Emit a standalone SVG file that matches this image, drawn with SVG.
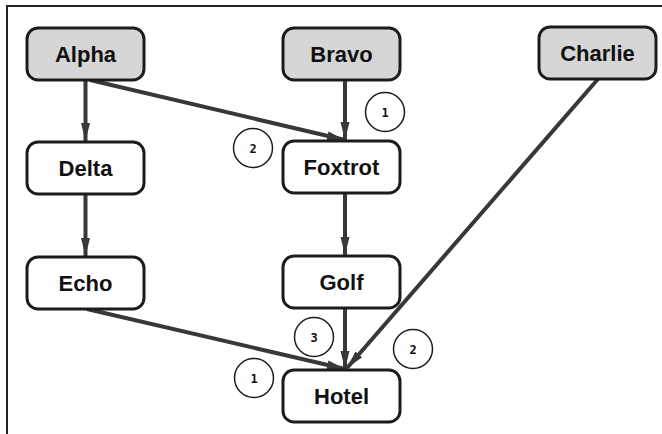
<svg xmlns="http://www.w3.org/2000/svg" width="662" height="434" viewBox="0 0 662 434">
  <style>
    .box { stroke: #1c1c1c; stroke-width: 3; }
    .top { fill: #d6d6d6; }
    .plain { fill: #ffffff; }
    .lbl { font-family: "Liberation Sans", Arial, sans-serif; font-weight: bold; font-size: 22px; fill: #111; text-anchor: middle; }
    .edge { fill: none; stroke: #383838; stroke-width: 4; }
    .tag circle { fill: #fff; stroke: #1c1c1c; stroke-width: 1.5; }
    .tag text { font-family: "DejaVu Sans Mono", "Liberation Mono", monospace; font-weight: bold; font-size: 12px; fill: #111; text-anchor: middle; }
  </style>
  <defs>
    <marker id="arr" markerUnits="userSpaceOnUse" markerWidth="20" markerHeight="12" refX="18" refY="6" orient="auto">
      <path d="M0,1.5 L18,6 L0,10.5 z" fill="#383838"/>
    </marker>
  </defs>
  <rect width="662" height="434" fill="#ffffff"/>
  <rect x="7" y="6" width="720" height="500" fill="none" stroke="#222" stroke-width="2"/>

  <g id="connectors">
    <path class="edge" d="M85.5,80 L85.5,141" marker-end="url(#arr)"/>
    <path class="edge" d="M85.5,194 L85.5,256" marker-end="url(#arr)"/>
    <path class="edge" d="M90,80 L345,140" marker-end="url(#arr)"/>
    <path class="edge" d="M345,80 L345,140" marker-end="url(#arr)"/>
    <path class="edge" d="M345,194 L345,255" marker-end="url(#arr)"/>
    <path class="edge" d="M87,309 L345,369" marker-end="url(#arr)"/>
    <path class="edge" d="M345,308 L345,369" marker-end="url(#arr)"/>
    <path class="edge" d="M598,79 L347,368" marker-end="url(#arr)"/>
  </g>

  <g id="Alpha"><rect class="box top" x="27" y="28" width="117" height="52" rx="11"/><text class="lbl" x="85.5" y="62">Alpha</text></g>
  <g id="Bravo"><rect class="box top" x="283" y="28" width="117" height="52" rx="11"/><text class="lbl" x="341.5" y="62">Bravo</text></g>
  <g id="Charlie"><rect class="box top" x="539" y="27" width="117" height="52" rx="11"/><text class="lbl" x="597.5" y="61">Charlie</text></g>
  <g id="Delta"><rect class="box plain" x="27" y="142" width="117" height="52" rx="11"/><text class="lbl" x="85.5" y="176">Delta</text></g>
  <g id="Foxtrot"><rect class="box plain" x="283" y="141" width="117" height="52" rx="11"/><text class="lbl" x="341.5" y="175">Foxtrot</text></g>
  <g id="Echo"><rect class="box plain" x="27" y="257" width="117" height="52" rx="11"/><text class="lbl" x="85.5" y="291">Echo</text></g>
  <g id="Golf"><rect class="box plain" x="283" y="256" width="117" height="52" rx="11"/><text class="lbl" x="341.5" y="290">Golf</text></g>
  <g id="Hotel"><rect class="box plain" x="283" y="370" width="117" height="52" rx="11"/><text class="lbl" x="341.5" y="404">Hotel</text></g>

  <g id="labels">
    <g class="tag"><circle cx="385" cy="112" r="19.5"/><text x="385" y="116.5">1</text></g>
    <g class="tag"><circle cx="253" cy="148" r="19.5"/><text x="253" y="152.5">2</text></g>
    <g class="tag"><circle cx="314" cy="337" r="19.5"/><text x="314" y="341.5">3</text></g>
    <g class="tag"><circle cx="254" cy="378" r="19.5"/><text x="254" y="382.5">1</text></g>
    <g class="tag"><circle cx="413" cy="349" r="19.5"/><text x="413" y="353.5">2</text></g>
  </g>
</svg>
